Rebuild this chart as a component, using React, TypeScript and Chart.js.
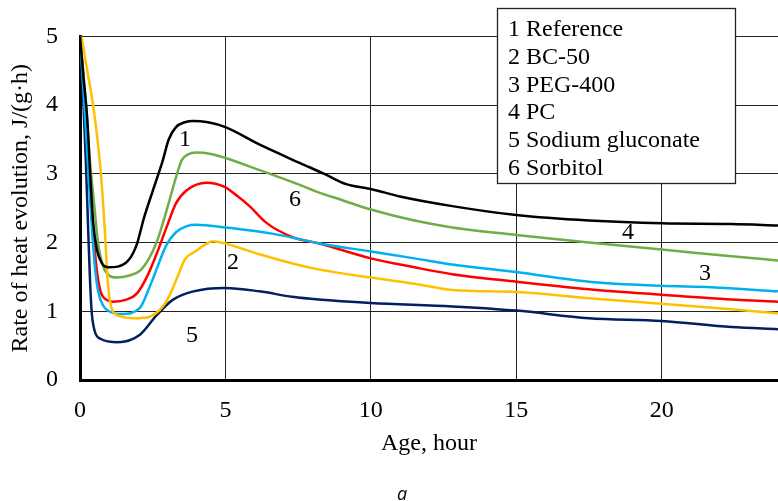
import { useEffect, useRef } from "react";
import { Chart, registerables } from "chart.js";

Chart.register(...registerables);

// ---- Data (hours, J/(g·h)) ----
const seriesNames = ["1 Reference", "2 BC-50", "3 PEG-400", "4 PC", "5 Sodium gluconate", "6 Sorbitol"];

const refX = [0, 0.12, 0.25, 0.35, 0.45, 0.58, 0.75, 0.97, 1.3, 1.7, 1.95, 2.2, 2.5, 2.85, 3.05, 3.3, 3.6, 3.9, 4.4, 5.0, 6.2, 7.55, 8.4, 9.15, 10, 11, 12.8, 15, 17.5, 20, 22.4, 24];
const refY = [5, 4.4, 3.8, 3.0, 2.3, 1.9, 1.7, 1.64, 1.65, 1.76, 1.97, 2.36, 2.75, 3.2, 3.5, 3.68, 3.75, 3.77, 3.75, 3.68, 3.42, 3.16, 3.0, 2.85, 2.78, 2.67, 2.53, 2.4, 2.32, 2.28, 2.27, 2.25];

const bcX = [0.05, 0.25, 0.45, 0.6, 0.72, 0.85, 0.96, 1.1, 1.37, 1.9, 2.3, 2.63, 2.9, 3.1, 3.4, 3.6, 4.0, 4.3, 4.56, 4.97, 5.5, 6.17, 7.55, 8.2, 10, 11.5, 12.8, 15, 17.5, 20, 22.4, 24];
const bcY = [5, 4.5, 4.0, 3.5, 3.0, 2.2, 1.4, 1.03, 0.93, 0.9, 0.91, 0.98, 1.1, 1.25, 1.55, 1.75, 1.88, 1.97, 2.02, 1.99, 1.92, 1.83, 1.67, 1.61, 1.49, 1.4, 1.31, 1.28, 1.19, 1.11, 1.03, 0.97];

const pegX = [0, 0.12, 0.25, 0.38, 0.5, 0.62, 0.8, 1.0, 1.43, 2.06, 2.4, 2.98, 3.3, 3.67, 4.0, 4.97, 6.6, 7.55, 8.2, 10, 11.5, 12.8, 15, 17.5, 20, 21.7, 24];
const pegY = [5, 4.2, 3.3, 2.4, 1.7, 1.3, 1.08, 1.0, 0.96, 1.05, 1.36, 1.97, 2.15, 2.24, 2.26, 2.22, 2.13, 2.05, 1.99, 1.87, 1.77, 1.68, 1.57, 1.43, 1.37, 1.35, 1.29];

const pcX = [0, 0.15, 0.32, 0.5, 0.62, 0.8, 1.0, 1.26, 1.7, 2.06, 2.35, 2.63, 3.0, 3.3, 3.5, 3.7, 4.0, 4.5, 5.0, 6.2, 7.55, 8.2, 9, 10, 11.5, 12.8, 15, 17.5, 20, 22.4, 24];
const pcY = [5, 4.3, 3.3, 2.5, 2.0, 1.65, 1.52, 1.49, 1.52, 1.59, 1.75, 2.0, 2.5, 2.95, 3.2, 3.28, 3.31, 3.29, 3.23, 3.05, 2.84, 2.73, 2.62, 2.48, 2.32, 2.22, 2.11, 2.0, 1.9, 1.8, 1.74];

const sgX = [0, 0.1, 0.2, 0.28, 0.34, 0.4, 0.5, 0.7, 1.3, 2.06, 2.63, 3.2, 3.9, 4.97, 6.17, 7.3, 8.2, 10, 12.8, 15, 17.5, 20, 22.4, 24];
const sgY = [5, 4.2, 3.2, 2.2, 1.5, 1.0, 0.72, 0.6, 0.55, 0.66, 0.94, 1.17, 1.29, 1.34, 1.29, 1.21, 1.17, 1.12, 1.07, 1.01, 0.9, 0.86, 0.77, 0.74];

const sorX = [0, 0.15, 0.3, 0.42, 0.55, 0.7, 0.9, 1.14, 1.6, 1.96, 2.3, 2.63, 3.0, 3.3, 3.67, 4.35, 4.97, 5.4, 5.83, 6.4, 7.3, 8.2, 10, 11.5, 12.8, 15, 17.5, 20, 22.4, 24];
const sorY = [5, 4.2, 3.2, 2.4, 1.7, 1.3, 1.17, 1.14, 1.17, 1.26, 1.5, 1.83, 2.25, 2.57, 2.76, 2.87, 2.81, 2.68, 2.53, 2.29, 2.08, 1.99, 1.77, 1.64, 1.54, 1.43, 1.32, 1.24, 1.17, 1.14];

const seriesColors = ["#000000", "#FFC000", "#00B0F0", "#70AD47", "#002060", "#FF0000"];

// curve number labels (data coordinates)
const curveLabelText = ["1", "2", "3", "4", "5", "6"];
const curveLabelX = [3.61, 5.26, 21.49, 18.84, 3.85, 7.39];
const curveLabelY = [3.5, 1.71, 1.54, 2.14, 0.64, 2.63];

const xTitle = "Age, hour";
const yTitle = "Rate of heat evolution, J/(g·h)";
const caption = "a";

const SERIF = '"Liberation Serif", "Times New Roman", serif';
const FS = 24;

function pts(xs: number[], ys: number[]) {
  return xs.map((x, i) => ({ x, y: ys[i] }));
}

const annotationPlugin = {
  id: "annotations",
  afterDraw(chart: any) {
    const { ctx, scales } = chart;
    ctx.save();
    ctx.fillStyle = "#000";
    ctx.font = `${FS}px ${SERIF}`;
    ctx.textAlign = "center";
    ctx.textBaseline = "middle";
    curveLabelText.forEach((t, i) => {
      ctx.fillText(t, scales.x.getPixelForValue(curveLabelX[i]), scales.y.getPixelForValue(curveLabelY[i]));
    });

    // legend box
    const bx = 497, by = 8, bw = 238, bh = 175;
    ctx.fillStyle = "#fff";
    ctx.fillRect(bx, by, bw, bh);
    ctx.strokeStyle = "#222";
    ctx.lineWidth = 1.3;
    ctx.strokeRect(bx + 0.5, by + 0.5, bw, bh);
    ctx.fillStyle = "#000";
    ctx.textAlign = "left";
    ctx.textBaseline = "alphabetic";
    ctx.font = `${FS}px ${SERIF}`;
    seriesNames.forEach((n, i) => {
      ctx.fillText(n, 508, 36 + i * 27.8);
    });

    // caption
    ctx.font = 'italic 18px "Open Sans", "Noto Sans", sans-serif';
    ctx.textAlign = "center";
    ctx.fillText(caption, 402, 500);
    ctx.restore();
  },
};

export default function App() {
  const ref = useRef<HTMLCanvasElement | null>(null);

  useEffect(() => {
    if (!ref.current) return;
    const series = [
      pts(refX, refY),
      pts(bcX, bcY),
      pts(pegX, pegY),
      pts(pcX, pcY),
      pts(sgX, sgY),
      pts(sorX, sorY),
    ];
    const chart = new Chart(ref.current, {
      type: "line",
      data: {
        datasets: series.map((d, i) => ({
          label: seriesNames[i],
          data: d,
          borderColor: seriesColors[i],
          backgroundColor: seriesColors[i],
          borderWidth: 2.5,
          pointRadius: 0,
          fill: false,
          cubicInterpolationMode: "monotone" as const,
        })),
      },
      options: {
        animation: false,
        responsive: true,
        maintainAspectRatio: false,
        layout: { padding: { top: 23, right: 0, left: 0, bottom: 0 } },
        plugins: { legend: { display: false }, tooltip: { enabled: false } },
        scales: {
          x: {
            type: "linear",
            min: 0,
            max: 24,
            afterFit: (s: any) => {
              s.height = 121;
            },
            ticks: {
              stepSize: 5,
              includeBounds: false,
              color: "#000",
              padding: 16,
              maxRotation: 0,
              font: { family: SERIF, size: FS },
            },
            grid: { color: "#222", lineWidth: 1, drawTicks: false },
            border: { display: true, color: "#000", width: 3 },
            title: {
              display: true,
              text: xTitle,
              color: "#000",
              font: { family: SERIF, size: FS },
              padding: { top: 0, bottom: 43 },
            },
          },
          y: {
            type: "linear",
            min: 0,
            max: 5,
            afterFit: (s: any) => {
              s.width = 80;
            },
            ticks: {
              stepSize: 1,
              color: "#000",
              padding: 22,
              font: { family: SERIF, size: FS },
            },
            grid: { color: "#222", lineWidth: 1, drawTicks: false },
            border: { display: true, color: "#000", width: 3 },
            title: {
              display: true,
              text: yTitle,
              color: "#000",
              font: { family: SERIF, size: FS },
              padding: { top: 6, bottom: 0 },
            },
          },
        },
      },
      plugins: [annotationPlugin],
    });
    return () => chart.destroy();
  }, []);

  return (
    <div style={{ position: "fixed", left: 0, top: 0, width: 778, height: 501, background: "#fff" }}>
      <canvas ref={ref} />
    </div>
  );
}
